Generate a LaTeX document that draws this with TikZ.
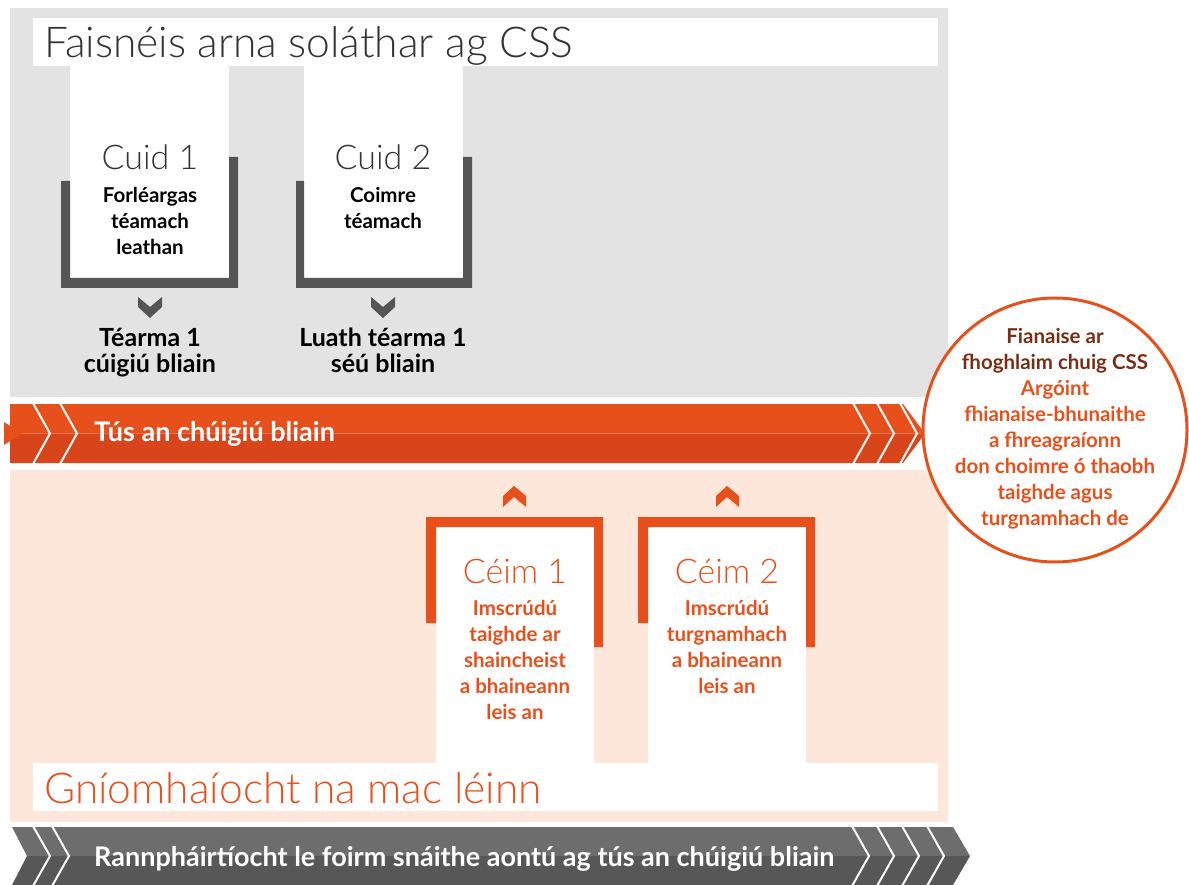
\documentclass[tikz,border=0pt]{standalone}
\usepackage{fontspec}
\setmainfont{Lato}
\newfontfamily\lightfont{Lato Light}
\definecolor{orng}{HTML}{E8501B}
\definecolor{orngd}{HTML}{D8451A}
\definecolor{panelgray}{HTML}{E3E3E3}
\definecolor{peach}{HTML}{FDE6DA}
\definecolor{dgray}{HTML}{555555}
\definecolor{bandg}{HTML}{6D6D6D}
\definecolor{bandgd}{HTML}{575757}
\definecolor{brownred}{HTML}{7B2C14}
\definecolor{titlegray}{HTML}{333333}
\begin{document}
\begin{tikzpicture}[x=1pt,y=-1pt,
  bigtitle/.style={font=\lightfont\fontsize{42.5}{48}\selectfont, anchor=base west, inner sep=0},
  boxtitle/.style={font=\lightfont\fontsize{34}{40}\selectfont, anchor=base, inner sep=0},
  bodytxt/.style={font=\bfseries\fontsize{20.5}{26}\selectfont, align=center, inner sep=0, anchor=base},
  termtxt/.style={font=\bfseries\fontsize{25}{26}\selectfont, align=center, inner sep=0, anchor=base, text=black},
  bandtxt/.style={font=\bfseries\fontsize{27}{30}\selectfont, anchor=base west, inner sep=0, text=white},
  whitebox/.style={fill=white, draw=none, inner sep=0, rectangle},
  chevline/.style={draw=white, line width=2pt},
]
\useasboundingbox (0,0) rectangle (1189,885);

% ---------- top grey panel ----------
\fill[panelgray] (10,8) rectangle (948,397);
\node[whitebox, minimum width=905, minimum height=48, anchor=north west] (toptitlebar) at (33,18) {};
\node[bigtitle, text=titlegray] (toptitle) at (44,58) {Faisnéis arna soláthar ag CSS};

% Cuid 1
\node[whitebox, minimum width=159, minimum height=212, anchor=north west] (c1box) at (70,66) {};
\fill[dgray] (61,181) -- (70,181) -- (70,278) -- (229,278) -- (229,157) -- (238,157) -- (238,288) -- (61,288) -- cycle;
\node[boxtitle, text=titlegray] (c1title) at (150,170) {Cuid 1};
\node[bodytxt, text=black] (c1body) at (150,255) {Forléargas\\téamach\\leathan};
\fill[dgray] (138,297) -- (150,307) -- (162,297) -- (162,307) -- (150,318) -- (138,307) -- cycle;
\node[termtxt] (c1term) at (150,373) {Téarma 1\\cúigiú bliain};

% Cuid 2
\node[whitebox, minimum width=159, minimum height=212, anchor=north west] (c2box) at (304,66) {};
\fill[dgray] (296,181) -- (304,181) -- (304,278) -- (463,278) -- (463,157) -- (472,157) -- (472,288) -- (296,288) -- cycle;
\node[boxtitle, text=titlegray] (c2title) at (383,170) {Cuid 2};
\node[bodytxt, text=black] (c2body) at (383,229) {Coimre\\téamach};
\fill[dgray] (371,297) -- (383,307) -- (395,297) -- (395,307) -- (383,318) -- (371,307) -- cycle;
\node[termtxt] (c2term) at (383,373) {Luath téarma 1\\séú bliain};

% ---------- orange band ----------
\fill[orng] (10,404) -- (903,404) -- (925,433.5) -- (10,433.5) -- cycle;
\fill[orngd] (10,433.5) -- (925,433.5) -- (903,463) -- (10,463) -- cycle;
\fill[orng] (4,422) -- (22,433.5) -- (4,445) -- cycle;
\foreach \x in {33,60,853,877,900}
  \draw[chevline] (\x,403) -- (\x+17,433.5) -- (\x,464);
\node[bandtxt] (startband) at (94,441) {Tús an chúigiú bliain};

% ---------- peach panel ----------
\fill[peach] (10,470) rectangle (948,822);

% Céim 1
\node[whitebox, minimum width=158, minimum height=236, anchor=north west] (s1box) at (436,527) {};
\fill[orng] (426,623) -- (426,517) -- (603,517) -- (603,647) -- (594,647) -- (594,527) -- (436,527) -- (436,623) -- cycle;
\fill[orng] (503,496) -- (514,486) -- (526,496) -- (526,507) -- (514,497) -- (503,507) -- cycle;
\node[boxtitle, text=orng] (s1title) at (515,583) {Céim 1};
\node[bodytxt, text=orng] (s1body) at (515,719) {Imscrúdú\\taighde ar\\shaincheist\\a bhaineann\\leis an};

% Céim 2
\node[whitebox, minimum width=158, minimum height=236, anchor=north west] (s2box) at (648,527) {};
\fill[orng] (638,623) -- (638,517) -- (815,517) -- (815,647) -- (806,647) -- (806,527) -- (648,527) -- (648,623) -- cycle;
\fill[orng] (716,496) -- (727,486) -- (739,496) -- (739,507) -- (727,497) -- (716,507) -- cycle;
\node[boxtitle, text=orng] (s2title) at (727,583) {Céim 2};
\node[bodytxt, text=orng] (s2body) at (727,693) {Imscrúdú\\turgnamhach\\a bhaineann\\leis an};

% bottom title bar
\node[whitebox, minimum width=905, minimum height=48, anchor=north west] (bottitlebar) at (33,763) {};
\node[bigtitle, text=orng] (bottitle) at (44,803) {Gníomhaíocht na mac léinn};

% ---------- grey band ----------
\fill[bandg] (12,827) -- (953,827) -- (970,856) -- (27,856) -- cycle;
\fill[bandgd] (27,856) -- (970,856) -- (953,885) -- (12,885) -- cycle;
\foreach \x in {33,52,852,877,902,927}
  \draw[chevline] (\x,826) -- (\x+17,856) -- (\x,886);
\node[bandtxt] (greyband) at (94,866) {Rannpháirtíocht le foirm snáithe aontú ag tús an chúigiú bliain};

% ---------- evidence circle ----------
\node[circle, draw=orng, line width=3pt, fill=white, minimum size=264, inner sep=0] (evidence) at (1055,430) {};
\node[bodytxt, text=orng] (evtext) at (1055,525) {\textcolor{brownred}{Fianaise ar}\\\textcolor{brownred}{fhoghlaim chuig CSS}\\Argóint\\fhianaise-bhunaithe\\a fhreagraíonn\\don choimre ó thaobh\\taighde agus\\turgnamhach de};
\end{tikzpicture}
\end{document}
